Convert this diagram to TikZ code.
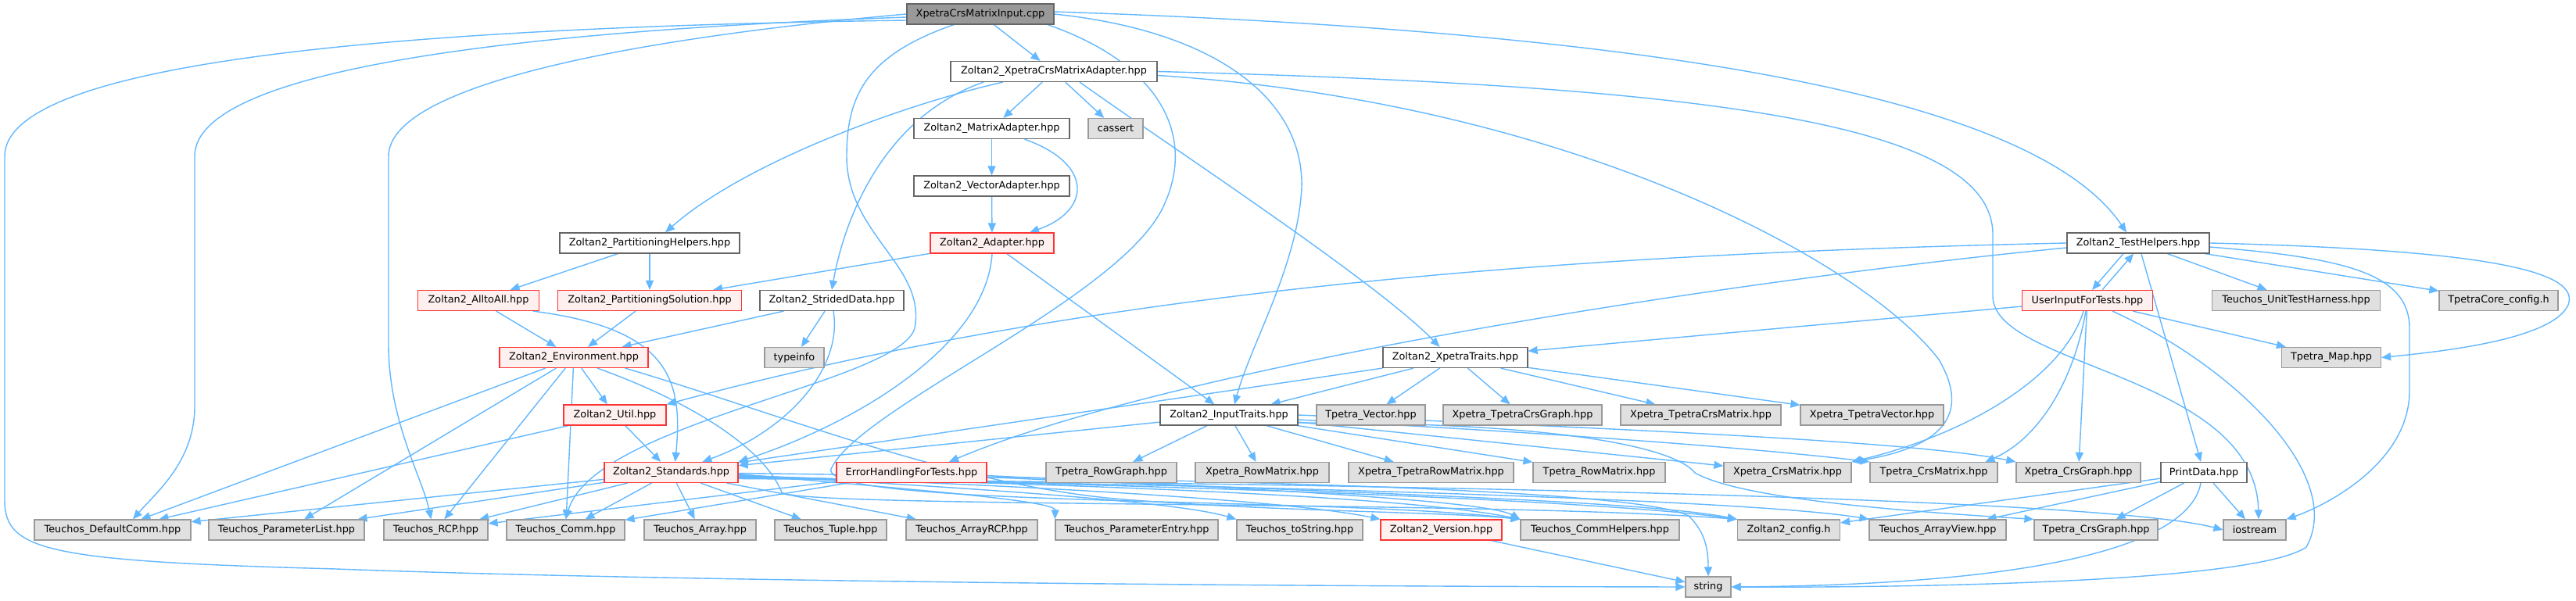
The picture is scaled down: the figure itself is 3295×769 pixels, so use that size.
\documentclass[tikz,border=0pt]{standalone}
\usepackage{fontspec}
\setmainfont{DejaVu Sans}
\usetikzlibrary{arrows.meta,calc}
\definecolor{edgec}{HTML}{63B8FF}
\definecolor{redfill}{HTML}{FFF0F0}
\definecolor{grayfill}{HTML}{E0E0E0}
\definecolor{grayline}{HTML}{999999}
\definecolor{darkline}{HTML}{666666}
\definecolor{redline}{HTML}{FF3333}
\pgfdeclarelayer{back}
\pgfdeclarelayer{edges}
\pgfsetlayers{back,edges,main}
\newcommand\N[6]{\node[#2,minimum width=#5*0.5pt] (#1) at (#3,#4) {#6};}
\begin{document}
\begin{tikzpicture}[x=0.5pt,y=-0.5pt,
  box/.style={rectangle,inner sep=0pt,minimum height=13pt,line width=0.6pt,font=\fontsize{6.4}{7}\selectfont},
  wn/.style={box,draw=darkline,fill=white},
  gn/.style={box,draw=grayline,fill=grayfill},
  rn/.style={box,draw=redline,fill=redfill},
  root/.style={box,draw=darkline,fill=grayline},
  e/.style={draw=edgec,line width=0.7pt,-{Triangle[length=6pt,width=5pt]}}]
\begin{pgfonlayer}{back}
\fill[white] (0,0) rectangle (3295,769);
\end{pgfonlayer}
\useasboundingbox (0,0) rectangle (3295,769);

\N{inp}{root}{1254}{18}{188}{XpetraCrsMatrixInput.cpp}
\N{xcma}{wn}{1348}{91.5}{264}{Zoltan2\_XpetraCrsMatrixAdapter.hpp}
\N{madp}{wn}{1268.5}{164.5}{199}{Zoltan2\_MatrixAdapter.hpp}
\N{cas}{gn}{1427}{164.5}{70}{cassert}
\N{vadp}{wn}{1268.5}{238}{199}{Zoltan2\_VectorAdapter.hpp}
\N{phelp}{wn}{831}{311}{230}{Zoltan2\_PartitioningHelpers.hpp}
\N{adp}{rn}{1269}{311}{158}{Zoltan2\_Adapter.hpp}
\N{thelp}{wn}{2735}{311}{182}{Zoltan2\_TestHelpers.hpp}
\N{a2a}{rn}{612}{384.5}{155}{Zoltan2\_AlltoAll.hpp}
\N{psol}{rn}{831}{384.5}{235}{Zoltan2\_PartitioningSolution.hpp}
\N{strided}{wn}{1064}{384.5}{184}{Zoltan2\_StridedData.hpp}
\N{uinp}{rn}{2670}{384.5}{167}{UserInputForTests.hpp}
\N{uth}{gn}{2937}{384.5}{215}{Teuchos\_UnitTestHarness.hpp}
\N{tcfg}{gn}{3196}{384.5}{152}{TpetraCore\_config.h}
\N{env}{rn}{734}{457.5}{190}{Zoltan2\_Environment.hpp}
\N{tinfo}{gn}{1016}{457.5}{76}{typeinfo}
\N{xtraits}{wn}{1861.5}{457.5}{185}{Zoltan2\_XpetraTraits.hpp}
\N{tmap}{gn}{2982}{457.5}{127}{Tpetra\_Map.hpp}
\N{util}{rn}{786.5}{531}{131}{Zoltan2\_Util.hpp}
\N{itraits}{wn}{1572}{531}{176}{Zoltan2\_InputTraits.hpp}
\N{tvec}{gn}{1753.5}{531}{139}{Tpetra\_Vector.hpp}
\N{xtcg}{gn}{1947.5}{531}{203}{Xpetra\_TpetraCrsGraph.hpp}
\N{xtcm}{gn}{2175.5}{531}{205}{Xpetra\_TpetraCrsMatrix.hpp}
\N{xtv}{gn}{2394.5}{531}{183}{Xpetra\_TpetraVector.hpp}
\N{std}{rn}{858.5}{604.5}{171}{Zoltan2\_Standards.hpp}
\N{err}{rn}{1166}{604.5}{192}{ErrorHandlingForTests.hpp}
\N{trg}{gn}{1421.5}{604.5}{167}{Tpetra\_RowGraph.hpp}
\N{xrm}{gn}{1614.5}{604.5}{171}{Xpetra\_RowMatrix.hpp}
\N{xtrm}{gn}{1830.5}{604.5}{211}{Xpetra\_TpetraRowMatrix.hpp}
\N{trm}{gn}{2045.5}{604.5}{169}{Tpetra\_RowMatrix.hpp}
\N{xcm}{gn}{2286.5}{604.5}{163}{Xpetra\_CrsMatrix.hpp}
\N{tcm}{gn}{2473.5}{604.5}{163}{Tpetra\_CrsMatrix.hpp}
\N{xcg}{gn}{2658.5}{604.5}{159}{Xpetra\_CrsGraph.hpp}
\N{pdata}{wn}{2819}{604.5}{110}{PrintData.hpp}
\N{tdc}{gn}{144}{678}{200}{Teuchos\_DefaultComm.hpp}
\N{tpl}{gn}{366.5}{678}{199}{Teuchos\_ParameterList.hpp}
\N{trcp}{gn}{557.5}{678}{133}{Teuchos\_RCP.hpp}
\N{tcomm}{gn}{723.5}{678}{151}{Teuchos\_Comm.hpp}
\N{tarr}{gn}{895.5}{678}{143}{Teuchos\_Array.hpp}
\N{ttup}{gn}{1062.5}{678}{143}{Teuchos\_Tuple.hpp}
\N{tarcp}{gn}{1243}{678}{168}{Teuchos\_ArrayRCP.hpp}
\N{tpe}{gn}{1454}{678}{208}{Teuchos\_ParameterEntry.hpp}
\N{tts}{gn}{1662.5}{678}{161}{Teuchos\_toString.hpp}
\N{ver}{rn}{1843.5}{678}{155}{Zoltan2\_Version.hpp}
\N{tch}{gn}{2046.5}{678}{203}{Teuchos\_CommHelpers.hpp}
\N{zcfg}{gn}{2288}{678}{131}{Zoltan2\_config.h}
\N{tav}{gn}{2478.5}{678}{175}{Teuchos\_ArrayView.hpp}
\N{tcg}{gn}{2681}{678}{158}{Tpetra\_CrsGraph.hpp}
\N{ios}{gn}{2884}{678}{80}{iostream}
\N{str}{gn}{2185}{751}{58}{string}

\begin{pgfonlayer}{edges}
% root
\draw[e] (inp) -- (xcma);
\draw[e] ($(inp.west)+(0,8)$) .. controls (500,35) and (6,80) .. (6,200) -- (6,640) .. controls (6,705) and (60,718) .. (430,728) .. controls (800,742) and (1500,750) .. (str.west);
\draw[e] ($(inp.west)+(0,4)$) .. controls (650,40) and (249,90) .. (249,200) -- (249,520) .. controls (249,590) and (200,630) .. ($(tdc.north)+(26,0)$);
\draw[e] (inp.west) .. controls (800,50) and (497,110) .. (497,200) -- (497,440) .. controls (497,540) and (540,610) .. ($(trcp.north)+(-6,0)$);
\draw[e] ($(inp.south)+(-34,0)$) .. controls (1110,70) and (1083,120) .. (1083,200) .. controls (1083,300) and (1185,340) .. (1170,420) .. controls (1150,490) and (760,540) .. (tcomm.north);
\draw[e] (inp.east) .. controls (1560,40) and (1668,130) .. (1665,240) .. controls (1660,340) and (1600,440) .. ($(itraits.north)+(7,0)$);
\draw[e] ($(inp.east)+(0,-3)$) .. controls (2100,40) and (2600,120) .. ($(thelp.north)+(-15,0)$);
\draw[e] ($(inp.south)+(86,0)$) .. controls (1480,80) and (1530,170) .. (1490,260) .. controls (1440,380) and (1100,520) .. (1063,600) .. controls (1050,650) and (1700,635) .. (tch.north west);

% adapter
\draw[e] (xcma) -- (madp);
\draw[e] (xcma) -- (cas);
\draw[e] ($(xcma.south)+(-65,0)$) .. controls (1150,135) and (950,210) .. ($(phelp.north)+(20,0)$);
\draw[e] ($(xcma.south)+(-90,0)$) .. controls (1130,150) and (1080,280) .. (strided.north);
\draw[e] ($(xcma.south)+(33,0)$) .. controls (1500,190) and (1760,360) .. ($(xtraits.north)+(-20,0)$);
\draw[e] (xcma.east) .. controls (2200,110) and (2549,160) .. (2549,300) -- (2549,380) .. controls (2552,470) and (2885,480) .. ($(ios.north)+(5,0)$);
\draw[e] ($(xcma.east)+(0,5)$) .. controls (2000,130) and (2380,330) .. (2480,460) .. controls (2515,520) and (2500,570) .. (xcm.north east);

\draw[e] (madp) -- (vadp);
\draw[e] ($(madp.south)+(42,0)$) .. controls (1400,210) and (1395,270) .. ($(adp.north)+(48,0)$);
\draw[e] (vadp) -- (adp);
\draw[e] (phelp) -- (a2a);
\draw[e] (phelp) -- (psol);
\draw[e] (adp) -- (psol);
\draw[e] (adp) -- (itraits);
\draw[e] (adp.south) .. controls (1262,440) and (1100,540) .. (std.north east);
\draw[e] (a2a) -- (env);
\draw[e] ($(a2a.south)+(70,0)$) .. controls (850,420) and (875,480) .. ($(std.north)+(5,0)$);
\draw[e] (psol) -- (env);
\draw[e] (strided) -- (env);
\draw[e] (strided) -- (tinfo);
\draw[e] ($(strided.south)+(2,0)$) .. controls (1078,470) and (1010,550) .. ($(std.north)+(40,0)$);

% environment
\draw[e] (env) -- (util);
\draw[e] (env) -- (tdc);
\draw[e] (env) -- (tpl);
\draw[e] (env) -- (trcp);
\draw[e] (env) -- (tcomm);
\draw[e] ($(env.south east)+(-30,0)$) .. controls (1000,530) and (1230,625) .. (1450,640) .. controls (1650,655) and (1850,655) .. (tch.north west);
\draw[e] ($(env.south)+(30,0)$) .. controls (900,520) and (980,580) .. (1000,630) .. controls (1020,650) and (1900,640) .. (zcfg.north west);
\draw[e] (util) -- (std);
\draw[e] (util) -- (tdc);

% test helpers
\draw[e] ($(thelp.south)+(-19,0)$) -- ($(uinp.north)+(6,0)$);
\draw[e] ($(uinp.north)+(19,0)$) -- ($(thelp.south)+(-6,0)$);
\draw[e] (thelp) -- (uth);
\draw[e] (thelp) -- (tcfg);
\draw[e] (thelp) -- (pdata);
\draw[e] (thelp.west) .. controls (2000,325) and (1400,370) .. (util.north east);
\draw[e] ($(thelp.west)+(0,6)$) .. controls (2200,360) and (1500,470) .. ($(err.north)+(48,0)$);
\draw[e] (thelp.east) .. controls (3200,320) and (3300,350) .. (3285,390) .. controls (3265,435) and (3120,450) .. (tmap.east);
\draw[e] ($(thelp.east)+(0,5)$) .. controls (3000,330) and (3082,350) .. (3082,420) -- (3082,500) .. controls (3082,590) and (2980,645) .. (ios.north east);

% user input
\draw[e] (uinp) -- (xtraits);
\draw[e] (uinp) -- (tmap);
\draw[e] (uinp) -- (xcg);
\draw[e] ($(uinp.south)+(-5,0)$) .. controls (2640,480) and (2520,555) .. (xcm.north east);
\draw[e] ($(uinp.south)+(-2,0)$) .. controls (2650,500) and (2600,565) .. ($(tcm.north)+(66,0)$);
\draw[e] ($(uinp.south)+(32,0)$) .. controls (2860,470) and (3000,610) .. (2950,700) .. controls (2880,748) and (2400,752) .. (str.east);

% xpetra traits
\draw[e] (xtraits) -- (tvec);
\draw[e] (xtraits) -- (xtcg);
\draw[e] (xtraits) -- (xtcm);
\draw[e] (xtraits) -- (xtv);
\draw[e] (xtraits) -- (itraits);
\draw[e] (xtraits) -- (std);

% input traits
\draw[e] (itraits) -- (std);
\draw[e] (itraits) -- (trg);
\draw[e] (itraits) -- (xrm);
\draw[e] (itraits) -- (xtrm);
\draw[e] (itraits) -- (trm);
\draw[e] (itraits) -- (xcm);
\draw[e] ($(itraits.east)+(0,6)$) .. controls (2100,560) and (2300,580) .. (tcm.north west);
\draw[e] (itraits.east) .. controls (2100,550) and (2450,565) .. (xcg.north west);
\draw[e] ($(itraits.east)+(0,10)$) .. controls (1980,540) and (2140,570) .. (2168,605) .. controls (2230,640) and (2450,655) .. (tcg.north west);

% standards
\draw[e] (std) -- (tdc);
\draw[e] (std) -- (tpl);
\draw[e] (std) -- (trcp);
\draw[e] (std) -- (tcomm);
\draw[e] (std) -- (tarr);
\draw[e] (std) -- (ttup);
\draw[e] (std) -- (tarcp);
\draw[e] ($(std.east)+(0,2)$) .. controls (1150,625) and (1350,640) .. (tpe.north west);
\draw[e] ($(std.east)+(0,3)$) .. controls (1200,622) and (1500,640) .. (tts.north west);
\draw[e] ($(std.east)+(0,4)$) .. controls (1300,620) and (1650,640) .. (ver.north west);
\draw[e] ($(std.east)+(0,5)$) .. controls (1400,620) and (1800,635) .. (tch.north west);
\draw[e] ($(std.east)+(0,6)$) .. controls (1500,620) and (2050,640) .. (zcfg.north west);
\draw[e] ($(std.east)+(0,7)$) .. controls (1600,620) and (2250,640) .. (tav.north west);
\draw[e] ($(std.east)+(0,8)$) .. controls (1900,620) and (2700,640) .. (ios.west);
\draw[e] ($(std.east)+(0,1)$) .. controls (1700,615) and (2100,630) .. (2160,660) .. controls (2180,680) and (2185,700) .. (str.north);

% error handling
\draw[e] (err) -- (trcp);
\draw[e] (err) -- (tcomm);
\draw[e] ($(err.east)+(0,4)$) .. controls (1600,625) and (1900,640) .. (tch.north west);
\draw[e] ($(err.east)+(0,6)$) .. controls (1700,630) and (2100,640) .. (zcfg.north west);

% leaves
\draw[e] (ver) -- (str);
\draw[e] (pdata) -- (zcfg);
\draw[e] (pdata) -- (tav);
\draw[e] (pdata) -- (tcg);
\draw[e] (pdata) -- (ios);
\draw[e] ($(pdata.south)+(-4,0)$) .. controls (2800,700) and (2600,748) .. (str.east);
\end{pgfonlayer}
\end{tikzpicture}
\end{document}
